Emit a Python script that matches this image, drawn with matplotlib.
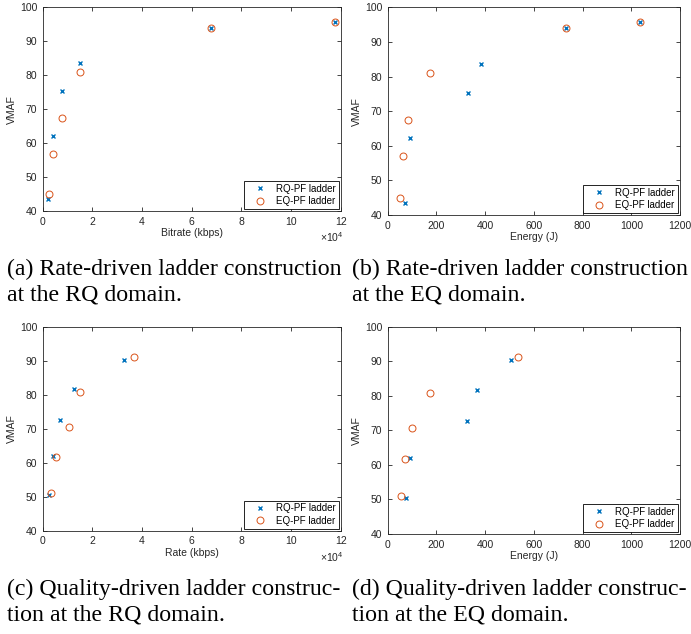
import matplotlib
matplotlib.use("Agg")
import matplotlib.pyplot as plt
from matplotlib.ticker import FuncFormatter

# --- data ---
# rate-driven ladders (same VMAF values in RQ and EQ domain)
rate_rq_vmaf = [43.4, 62.1, 75.3, 83.5, 93.9, 95.8]
rate_eq_vmaf = [45.0, 56.9, 67.5, 80.9, 93.9, 95.8]
rate_rq_kbps = [2000, 4300, 7800, 15200, 67900, 117700]
rate_eq_kbps = [2400, 4300, 7800, 15000, 67900, 117700]
rate_rq_energy = [71, 90, 331, 383, 731, 1034]
rate_eq_energy = [51, 63, 85, 172, 731, 1034]

# quality-driven ladders
qual_rq_vmaf = [50.4, 62.1, 72.7, 81.7, 90.3]
qual_eq_vmaf = [51.1, 61.8, 70.6, 80.9, 91.1]
qual_rq_kbps = [2700, 4300, 7100, 12600, 32900]
qual_eq_kbps = [3400, 5500, 10600, 15000, 36900]
qual_rq_energy = [77, 90, 326, 367, 506]
qual_eq_energy = [56, 71, 99, 172, 535]

captions = [
    "(a) Rate-driven ladder construction\nat the RQ domain.",
    "(b) Rate-driven ladder construction\nat the EQ domain.",
    "(c) Quality-driven ladder construc-\ntion at the RQ domain.",
    "(d) Quality-driven ladder construc-\ntion at the EQ domain.",
]

blue = "#0072BD"
orange = "#D95319"
grey = "#262626"

plt.rcParams["font.family"] = ["Liberation Sans", "DejaVu Sans"]
plt.rcParams["mathtext.fontset"] = "custom"
plt.rcParams["mathtext.rm"] = "Liberation Sans"
plt.rcParams["mathtext.it"] = "Liberation Sans"
plt.rcParams["font.size"] = 7.5

fig = plt.figure(figsize=(6.91, 6.34), dpi=100)

# axes boxes in figure fractions [left, bottom, width, height]
boxes = [
    [0.0618, 0.6672, 0.4313, 0.3213],
    [0.5611, 0.6609, 0.4230, 0.3276],
    [0.0618, 0.1629, 0.4313, 0.3218],
    [0.5611, 0.1577, 0.4230, 0.3270],
]
cap_pos = [(0.010, 0.5915), (0.509, 0.5915), (0.010, 0.0870), (0.509, 0.0870)]

panels = [
    (rate_rq_kbps, rate_rq_vmaf, rate_eq_kbps, rate_eq_vmaf, "Bitrate (kbps)", True),
    (rate_rq_energy, rate_rq_vmaf, rate_eq_energy, rate_eq_vmaf, "Energy (J)", False),
    (qual_rq_kbps, qual_rq_vmaf, qual_eq_kbps, qual_eq_vmaf, "Rate (kbps)", True),
    (qual_rq_energy, qual_rq_vmaf, qual_eq_energy, qual_eq_vmaf, "Energy (J)", False),
]

for box, (xr, yr, xe, ye, xlabel, is_rate), cap, cp in zip(boxes, panels, captions, cap_pos):
    ax = fig.add_axes(box)
    ax.plot(xr, yr, "x", color=blue, markersize=3.5, markeredgewidth=1.0,
            label="RQ-PF ladder")
    ax.plot(xe, ye, "o", color=orange, markerfacecolor="none", markersize=5,
            markeredgewidth=0.7, label="EQ-PF ladder")

    ax.set_ylim(40, 100)
    ax.set_yticks(range(40, 101, 10))
    if is_rate:
        ax.set_xlim(0, 120000)
        ax.set_xticks(range(0, 120001, 20000))
        ax.xaxis.set_major_formatter(FuncFormatter(lambda v, p: f"{v / 1e4:g}"))
        ax.text(1.01, -0.095, r"$\times10^4$", transform=ax.transAxes,
                ha="right", va="top", color=grey, fontsize=7.5)
    else:
        ax.set_xlim(0, 1200)
        ax.set_xticks(range(0, 1201, 200))

    ax.set_xlabel(xlabel, color=grey, labelpad=1)
    ax.set_ylabel("VMAF", color=grey, labelpad=2)
    ax.tick_params(direction="in", length=3, width=0.6, top=True, right=True,
                   colors=grey, labelsize=7.5)
    ax.tick_params(axis="x", pad=4)
    ax.tick_params(axis="y", pad=4)
    for s in ax.spines.values():
        s.set_color(grey)
        s.set_linewidth(0.6)

    leg = ax.legend(loc="lower right", fontsize=7, fancybox=False,
                    edgecolor="black", framealpha=1, borderaxespad=0.2,
                    handletextpad=0.4, borderpad=0.3, labelspacing=0.25,
                    handlelength=2.6)
    leg.get_frame().set_linewidth(0.6)

    # caption under each panel
    fig.text(cp[0], cp[1], cap, family=["Liberation Serif", "DejaVu Serif"],
             fontsize=17.2, va="top", ha="left", linespacing=1.28)

fig.savefig("out.png", dpi=100)
